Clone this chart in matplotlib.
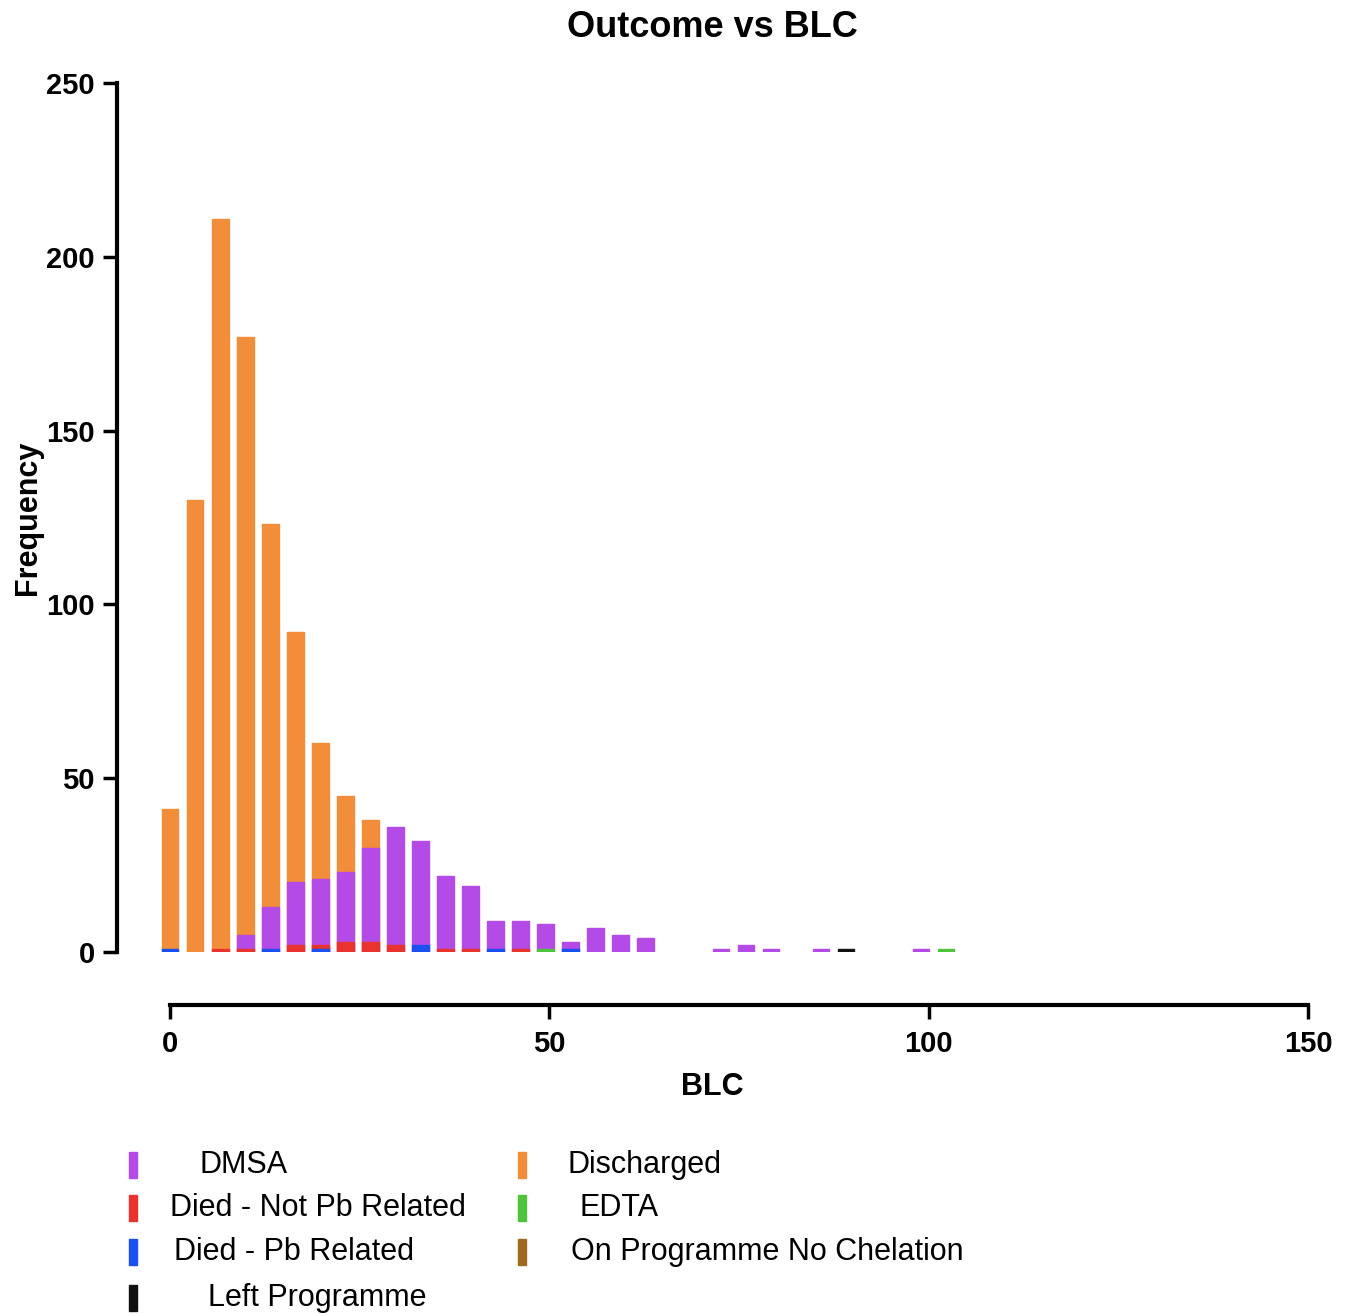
import numpy as np
import matplotlib
matplotlib.use("Agg")
import matplotlib.pyplot as plt
from matplotlib.patches import Rectangle

plt.rcParams['font.family'] = ['Liberation Sans', 'DejaVu Sans']

# bin centres are k * 3.3 (BLC)
bin_width = 3.3

discharged = {0: 41, 1: 130, 2: 211, 3: 177, 4: 123, 5: 92, 6: 60, 7: 45, 8: 38}
dmsa = {3: 5, 4: 13, 5: 20, 6: 21, 7: 23, 8: 30, 9: 36, 10: 32, 11: 22, 12: 19,
        13: 9, 14: 9, 15: 8, 16: 3, 17: 7, 18: 5, 19: 4, 22: 1, 23: 2, 24: 1,
        26: 1, 30: 1}
died_not_pb = {2: 1, 3: 1, 5: 2, 6: 2, 7: 3, 8: 3, 9: 2, 11: 1, 12: 1, 14: 1}
died_pb = {0: 1, 4: 1, 6: 1, 10: 2, 13: 1, 16: 1}
edta = {15: 1, 31: 1}
left_prog = {27: 1}
on_prog = {}

series = [
    ('Discharged', discharged, '#F28E3A'),
    ('DMSA', dmsa, '#B54BE6'),
    ('Died - Not Pb Related', died_not_pb, '#E8332E'),
    ('Died - Pb Related', died_pb, '#1A4FF0'),
    ('EDTA', edta, '#4DC43C'),
    ('Left Programme', left_prog, '#111111'),
    ('On Programme No Chelation', on_prog, '#A0691F'),
]
colors = {name: c for name, _, c in series}

fig = plt.figure(figsize=(13.51, 13.16), dpi=100)
ax = fig.add_axes([117 / 1351, 1 - 952 / 1316, (1308 - 117) / 1351, (952 - 83) / 1316])

for z, (name, d, c) in enumerate(series):
    if not d:
        continue
    k = np.array(list(d.keys()))
    v = np.array(list(d.values()))
    ax.bar(k * bin_width, v, width=2.2, color=c, edgecolor=c, linewidth=1, zorder=2 + z)

ax.set_xlim(-7, 150)
ax.set_ylim(0, 250)
ax.set_yticks([0, 50, 100, 150, 200, 250])
ax.set_xticks([0, 50, 100, 150])

for s in ['top', 'right']:
    ax.spines[s].set_visible(False)
ax.spines['left'].set_linewidth(3)
ax.spines['bottom'].set_linewidth(3)
ax.spines['left'].set_bounds(0, 250)
ax.spines['bottom'].set_bounds(0, 150)
ax.spines['bottom'].set_position(('outward', 38))

ax.tick_params(axis='both', length=10, width=2.5, labelsize=21, direction='out')
ax.tick_params(axis='y', pad=6)
ax.tick_params(axis='x', pad=8)
for lab in ax.get_xticklabels() + ax.get_yticklabels():
    lab.set_fontweight('bold')

ax.set_title('Outcome vs BLC', fontsize=26, fontweight='bold', pad=33)
ax.set_xlabel('BLC', fontsize=22, fontweight='bold', labelpad=10)
ax.set_ylabel('Frequency', fontsize=22, fontweight='bold', labelpad=2)

# legend, two columns as in the original
legend_rows = [
    ('DMSA', 133, 200, 1165),
    ('Died - Not Pb Related', 133, 170, 1208),
    ('Died - Pb Related', 133, 174, 1252),
    ('Left Programme', 133, 208, 1298),
    ('Discharged', 522, 567, 1165),
    ('EDTA', 522, 580, 1208),
    ('On Programme No Chelation', 522, 571, 1252),
]
W, H = 1351, 1316
for name, mx, tx, y in legend_rows:
    fig.add_artist(Rectangle(((mx - 4) / W, 1 - (y + 13) / H), 8 / W, 26 / H,
                             transform=fig.transFigure, color=colors[name]))
    fig.text(tx / W, 1 - y / H, name, fontsize=22, va='center', ha='left')

fig.savefig('out.png', dpi=100)
